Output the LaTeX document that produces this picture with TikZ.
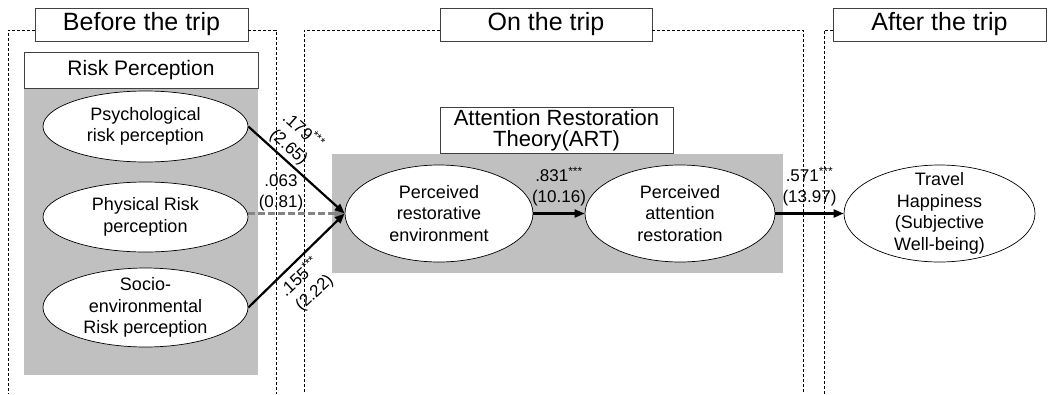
\documentclass[tikz,border=0pt]{standalone}
\usepackage{fontspec}
\setmainfont{Liberation Sans}
\usetikzlibrary{arrows.meta, positioning, shapes.geometric, calc}
\definecolor{panelGray}{HTML}{C0C0C0}
\definecolor{weakGray}{HTML}{858585}

\newcommand{\sig}{\textsuperscript{***}}

\begin{document}
\begin{tikzpicture}[
    x=1pt, y=-1pt,
    phase/.style={rectangle, draw=black!75, fill=white, line width=0.9pt,
                  minimum width=213pt, minimum height=33pt, inner sep=0pt,
                  font=\fontsize{25}{28}\selectfont},
    phaseline/.style={line width=0.7pt, dash pattern=on 3pt off 2pt},
    grouptitle/.style={rectangle, draw=black!75, fill=white, line width=0.9pt,
                  inner sep=0pt, align=center},
    groupbg/.style={rectangle, fill=panelGray, inner sep=0pt},
    construct/.style={ellipse, draw=black, fill=white, line width=0.7pt,
                  inner sep=-25pt, align=center,
                  font=\fontsize{18}{21.5}\selectfont},
    effect/.style={line width=2.2pt, -{Triangle[length=10pt, width=8pt]}},
    weak/.style={effect, draw=weakGray, dash pattern=on 7pt off 3pt},
    coef/.style={font=\fontsize{17}{21}\selectfont, align=center, inner sep=1pt},
  ]
    \useasboundingbox (0,0) rectangle (1049,394);

    % phases of the trip
    \node[phase] (before) at (141.5,24.5) {Before the trip};
    \node[phase, minimum width=212pt] (ontrip) at (546,24.5) {On the trip};
    \node[phase] (after) at (939.5,24.5) {After the trip};

    \coordinate (topy) at (0,30);
    \draw[phaseline] (before.west |- topy) -| (8,394);
    \draw[phaseline] (before.east |- topy) -| (276,394);
    \draw[phaseline] (ontrip.west |- topy) -| (304,394);
    \draw[phaseline] (ontrip.east |- topy) -| (803,394);
    \draw[phaseline] (after.west |- topy) -| (824,394);

    % groups
    \node[grouptitle, minimum width=234pt, minimum height=36pt,
          font=\fontsize{21}{24}\selectfont] (riskt) at (141,70) {Risk Perception};
    \node[groupbg, minimum width=234pt, minimum height=286pt, below=0pt of riskt] (riskbg) {};

    \node[grouptitle, minimum width=233pt, minimum height=46pt,
          font=\fontsize{22}{21}\selectfont] (artt) at (556.5,130) {Attention Restoration\\Theory(ART)};
    \node[groupbg, minimum width=451pt, minimum height=119pt, below=0pt of artt, xshift=1pt] (artbg) {};

    % constructs
    \node[construct, minimum width=205pt, minimum height=71pt] (psych) at (145.5,126.5) {Psychological\\risk perception};
    \node[construct, minimum width=205pt, minimum height=70pt] (phys) at (145.5,217) {Physical Risk\\perception};
    \node[construct, minimum width=205pt, minimum height=79pt] (socio) at (145.5,307.5) {Socio-\\environmental\\Risk perception};
    \node[construct, minimum width=188pt, minimum height=97pt] (renv) at (439,213.5) {Perceived\\restorative\\environment};
    \node[construct, minimum width=190pt, minimum height=97pt] (arest) at (680,213.5) {Perceived\\attention\\restoration};
    \node[construct, minimum width=191pt, minimum height=97pt] (happy) at (939.5,213.5) {Travel\\Happiness\\(Subjective\\Well-being)};

    % paths
    \draw[weak] (phys.east |- renv.west) -- (renv.west);
    \draw[effect] (psych.east) -- (renv.west);
    \draw[effect] (socio.east) -- (renv.west);
    \draw[effect] (renv) -- (arest);
    \draw[effect] (arest) -- (happy);

    \node[coef, rotate=-42] (c1) at (296,139) {.179\sig\\(2.65)};
    \node[coef] (c2) at (281,193) {.063\\(0.81)};
    \node[coef, rotate=43] (c3) at (307,285) {.155\sig\\(2.22)};
    \node[coef, above=6pt] (c4) at ($(renv.east)!0.5!(arest.west)$) {.831\sig\\(10.16)};
    \node[coef, above=6pt] (c5) at ($(arest.east)!0.5!(happy.west)$) {.571\sig\\(13.97)};
  \end{tikzpicture}
\end{document}
